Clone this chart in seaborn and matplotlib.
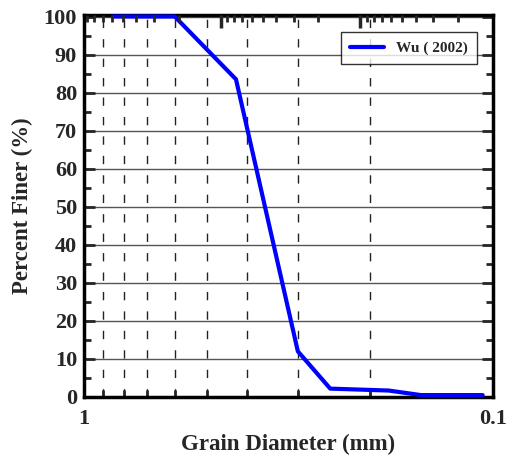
import numpy as np
import pandas as pd
import matplotlib
matplotlib.use("Agg")
import matplotlib.pyplot as plt
import matplotlib.ticker as mticker
import seaborn as sns

# Data
grain_diameter_mm = [0.85, 0.6, 0.425, 0.3, 0.25, 0.18, 0.15, 0.106]
percent_finer = [100, 100, 83.5, 12, 2.2, 1.7, 0.5, 0.5]
series_name = "Wu ( 2002)"
y_ticks = [0, 10, 20, 30, 40, 50, 60, 70, 80, 90, 100]

sns.set_style("ticks")
plt.rcParams['font.family'] = ['Liberation Serif', 'DejaVu Serif']
plt.rcParams['font.weight'] = 'bold'
plt.rcParams['axes.labelweight'] = 'bold'

df = pd.DataFrame({"d": grain_diameter_mm, "p": percent_finer, "s": series_name})

fig = plt.figure(figsize=(5.14, 4.57), dpi=100)
ax = fig.add_axes([84/514, 1-397/457, (493-84)/514, (397-15)/457])

sns.lineplot(data=df, x="d", y="p", hue="s", palette=["#0000FF"], linewidth=3,
             ax=ax, sort=False, estimator=None)
for ln in ax.get_lines():
    ln.set_clip_on(False)
    ln.set_zorder(7)

ax.set_xscale("log")
ax.set_xlim(1, 0.1)
ax.set_ylim(0, 100.4)

ax.xaxis.set_major_locator(mticker.FixedLocator([1, 0.1]))
ax.xaxis.set_major_formatter(mticker.FixedFormatter(["1", "0.1"]))
ax.xaxis.set_minor_locator(mticker.LogLocator(base=10, subs=np.arange(2, 10) * 0.1, numticks=10))
ax.xaxis.set_minor_formatter(mticker.NullFormatter())

ax.set_yticks(y_ticks)
ax.yaxis.set_minor_locator(mticker.MultipleLocator(5))

ax.tick_params(axis='both', which='major', labelsize=16, direction='in', width=2, length=8)
ax.tick_params(axis='x', which='major', pad=9)
ax.tick_params(axis='y', which='major', pad=5)
ax.tick_params(axis='both', which='minor', direction='in', width=2, length=5)
ax.tick_params(axis='y', which='both', left=True, right=True)
ax.tick_params(axis='x', which='both', bottom=True, top=False)
for lbl in ax.get_xticklabels() + ax.get_yticklabels():
    lbl.set_fontweight('bold')

ax.yaxis.grid(True, which='major', color='#555555', linewidth=1, linestyle='-')
ax.xaxis.grid(True, which='minor', color='#222222', linewidth=1, linestyle=(0, (6, 8)))
ax.set_axisbelow(True)

for sp in ax.spines.values():
    sp.set_linewidth(2.5)
    sp.set_color('black')
    sp.set_zorder(6)

ax.set_xlabel("Grain Diameter (mm)", fontsize=16.5, fontweight='bold', labelpad=3)
ax.set_ylabel("Percent Finer (%)", fontsize=16.5, fontweight='bold', labelpad=8)

# odd top axis of the original (separate log scale, ticks only)
ax2 = ax.twiny()
ax2.set_xscale("log")
ax2.set_xlim(9.5, 0.0112)
ax2.xaxis.set_major_locator(mticker.LogLocator(base=10, numticks=10))
ax2.xaxis.set_minor_locator(mticker.LogLocator(base=10, subs=np.arange(2, 10) * 1.0, numticks=10))
ax2.xaxis.set_major_formatter(mticker.NullFormatter())
ax2.xaxis.set_minor_formatter(mticker.NullFormatter())
ax2.tick_params(axis='x', which='major', direction='in', width=2.5, length=9, top=True, bottom=False)
ax2.tick_params(axis='x', which='minor', direction='in', width=2, length=5, top=True, bottom=False)
for sp in ax2.spines.values():
    sp.set_visible(False)

leg = ax.legend(loc='upper right', bbox_to_anchor=(0.961, 0.955), borderaxespad=0,
                frameon=True, fancybox=False, edgecolor='black', handlelength=2.2,
                borderpad=0.6, prop={'weight': 'bold', 'size': 11})
leg.get_frame().set_linewidth(1)

fig.savefig("out.png", dpi=100)
